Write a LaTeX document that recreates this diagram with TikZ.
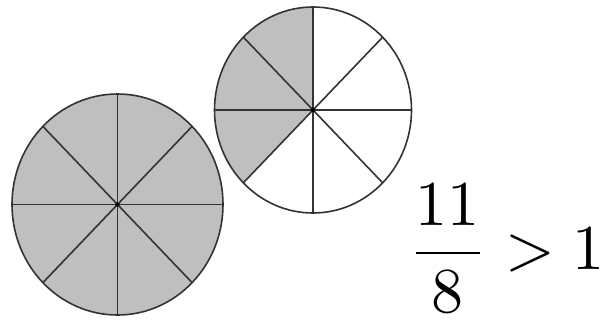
\documentclass[tikz,border=0pt]{standalone}
\usepackage{amsmath}
\usetikzlibrary{calc}
\begin{document}
\begin{tikzpicture}[x=1pt,y=-1pt,
  edge/.style={draw=black!80,line width=1.6pt},
  shade/.style={fill=black!25}]
\useasboundingbox (0,0) rectangle (615,322);
\fill[white] (0,0) rectangle (615,322);
% left circle, all shaded
\coordinate (L) at (117.5,204.5);
\fill[shade] (L) ellipse [x radius=105.5, y radius=110.5];
\foreach \a in {0,45,...,135}{
  \draw[edge] ($(L)+({105.5*cos(\a)},{-110.5*sin(\a)})$) -- ($(L)+({-105.5*cos(\a)},{110.5*sin(\a)})$);
}
\draw[edge] (L) ellipse [x radius=105.5, y radius=110.5];
\fill (L) circle (2.2);
% right circle, 3 of 8 shaded
\coordinate (R) at (313,110);
\fill[white] (R) ellipse [x radius=98.5, y radius=103];
\fill[shade] (R) -- ++(0,-103) arc [start angle=90, end angle=225, x radius=98.5, y radius=-103] -- cycle;
\foreach \a in {0,45,...,135}{
  \draw[edge] ($(R)+({98.5*cos(\a)},{-103*sin(\a)})$) -- ($(R)+({-98.5*cos(\a)},{103*sin(\a)})$);
}
\draw[edge] (R) ellipse [x radius=98.5, y radius=103];
\fill (R) circle (2.2);
\node[anchor=base west,inner sep=0pt,scale=6.4] (eq) at (407,269) {$\dfrac{11}{8}>1$};
\end{tikzpicture}
\end{document}
